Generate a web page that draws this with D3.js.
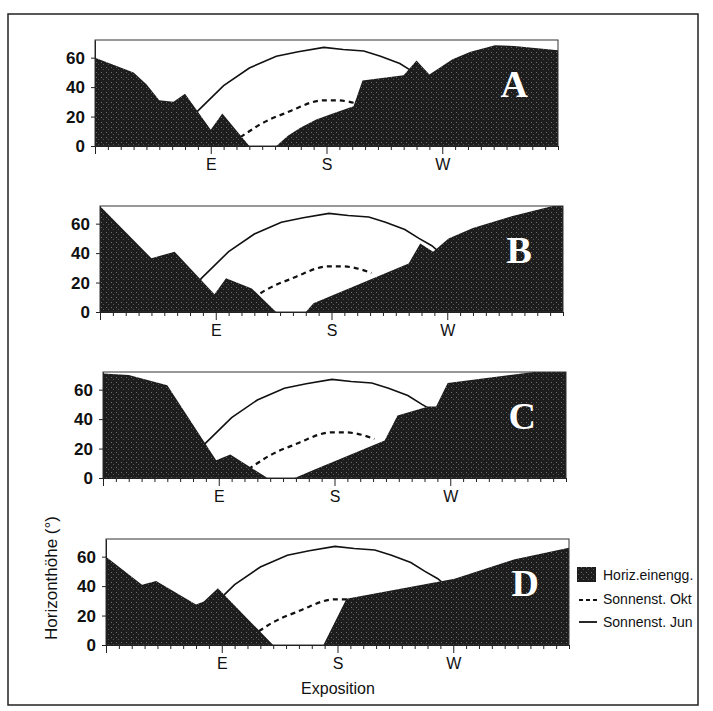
<!DOCTYPE html>
<html lang="de">
<head>
<meta charset="UTF-8">
<title>Horizonteinengung und Sonnenstand</title>
<style>
  body { margin: 0; background: #fff; }
  svg { display: block; font-family: "Liberation Sans", Arial, sans-serif; }
  .yaxis text { font-size: 17px; font-weight: bold; fill: #111; }
  .xaxis text { font-size: 16px; fill: #111; }
  .tick line, .domain { stroke: #222; }
  .legend text { font-size: 14px; fill: #111; }
</style>
</head>
<body>
<svg width="713" height="711"></svg>
<script src="https://d3js.org/d3.v7.min.js"></script>
<script>
// panel names
const panelNames = ["A", "B", "C", "D"];

// compass labels on the x axis (azimuth in degrees from north)
const dirTicks = [90, 180, 270];
const dirNames = ["E", "S", "W"];
const yTicks = [0, 20, 40, 60];

// horizon elevation (deg) per azimuth
const horizonAzA  = [0, 30, 40, 50, 61, 70, 90, 99, 120, 141, 150, 160, 172, 186, 201, 208, 240, 250, 260, 278, 292, 311, 326, 360];
const horizonValA = [60, 50, 42, 31, 30, 35.5, 11, 22, 0, 0, 7, 12.5, 18, 22.5, 27, 44.5, 48, 58, 48.5, 59, 64, 68.5, 68, 65];

const horizonAzB  = [0, 40, 58, 89, 98, 118, 137, 160, 166, 240, 249, 259, 271, 290, 320, 352, 360];
const horizonValB = [72, 36.5, 41, 12, 23, 16, 0, 0, 6, 33, 46.5, 41, 50, 57, 65, 72, 72];

const horizonAzC  = [0, 20, 50, 88, 99, 128, 149, 165, 219, 229, 243, 253, 259, 268, 335, 360];
const horizonValC = [71, 70, 63, 12, 16, 0, 0, 6, 25.5, 42.5, 46, 48.5, 48.5, 64.5, 72, 72];

const horizonAzD  = [0, 28, 39, 70, 76, 87, 130, 169, 187, 271, 317, 360];
const horizonValD = [60, 41, 43.5, 27.5, 29.5, 38.5, 0, 0, 31.5, 45, 58, 66];

// sun path June (solid) and October (dashed)
const junAz  = [62, 79, 100, 120, 141, 158, 178, 193, 209, 222, 237, 248, 258, 270, 285];
const junVal = [5, 23, 41, 53, 61, 64, 67, 65.5, 64.5, 61, 56, 50, 45, 36, 20];

const oktAz  = [113, 120, 128, 137, 147, 158, 168, 178, 188, 198, 211];
const oktVal = [6, 10, 14.5, 18.5, 22, 26, 29.5, 31, 31, 30, 26.5];

const horizonAz  = [horizonAzA, horizonAzB, horizonAzC, horizonAzD];
const horizonVal = [horizonValA, horizonValB, horizonValC, horizonValD];

// layout (scan is a bit skewed, so each panel shifts slightly)
const panelLeft = [95, 100, 103, 106];
const panelBase = [146, 312, 478, 645];
const plotW = 463, plotH = 106;

const svg = d3.select("svg");

const defs = svg.append("defs");
const pat = defs.append("pattern")
  .attr("id", "speckle")
  .attr("width", 5).attr("height", 5)
  .attr("patternUnits", "userSpaceOnUse");
pat.append("rect").attr("width", 5).attr("height", 5).attr("fill", "#1d1d1d");
pat.append("rect").attr("x", 1).attr("y", 2).attr("width", 1).attr("height", 1).attr("fill", "#6e6e6e");
pat.append("rect").attr("x", 3).attr("y", 4).attr("width", 1).attr("height", 1).attr("fill", "#555");

// outer frame of the scanned page
svg.append("rect")
  .attr("x", 8).attr("y", 14)
  .attr("width", 690).attr("height", 691)
  .attr("fill", "none")
  .attr("stroke", "#222")
  .attr("stroke-width", 1.5);

const zip = (a, b) => a.map((v, i) => [v, b[i]]);
const junData = zip(junAz, junVal);
const oktData = zip(oktAz, oktVal);

panelNames.forEach((name, i) => {
  const left = panelLeft[i], base = panelBase[i];
  const x = d3.scaleLinear().domain([0, 360]).range([left, left + plotW]);
  const y = d3.scaleLinear().domain([0, 72]).range([base, base - plotH]);

  const g = svg.append("g");

  defs.append("clipPath").attr("id", "clip" + i)
    .append("rect")
    .attr("x", left).attr("y", base - plotH)
    .attr("width", plotW).attr("height", plotH);

  const plot = g.append("g").attr("clip-path", `url(#clip${i})`);

  const line = d3.line().x(d => x(d[0])).y(d => y(d[1]));

  plot.append("path")
    .datum(junData)
    .attr("d", line)
    .attr("fill", "none")
    .attr("stroke", "#111")
    .attr("stroke-width", 1.6);

  plot.append("path")
    .datum(oktData)
    .attr("d", line.curve(d3.curveMonotoneX))
    .attr("fill", "none")
    .attr("stroke", "#111")
    .attr("stroke-width", 2.2)
    .attr("stroke-dasharray", "5,4");

  const area = d3.area()
    .x(d => x(d[0]))
    .y0(y(0))
    .y1(d => y(d[1]));

  plot.append("path")
    .datum(zip(horizonAz[i], horizonVal[i]))
    .attr("d", area)
    .attr("fill", "url(#speckle)");

  // panel letter
  g.append("text")
    .attr("x", x(326))
    .attr("y", y(33))
    .attr("text-anchor", "middle")
    .attr("font-family", "'Liberation Serif', 'Times New Roman', serif")
    .attr("font-weight", "bold")
    .attr("font-size", 38)
    .attr("fill", "#fff")
    .text(name);

  // plot frame
  g.append("rect")
    .attr("x", left).attr("y", base - plotH)
    .attr("width", plotW).attr("height", plotH)
    .attr("fill", "none")
    .attr("stroke", "#333")
    .attr("stroke-width", 1);

  // x axis
  const xAxis = g.append("g")
    .attr("class", "xaxis")
    .attr("transform", `translate(0,${base})`)
    .call(d3.axisBottom(x)
      .tickValues(d3.range(0, 361, 10))
      .tickSize(4)
      .tickSizeOuter(0)
      .tickFormat(d => {
        const k = dirTicks.indexOf(d);
        return k >= 0 ? dirNames[k] : "";
      }));
  xAxis.selectAll(".tick line")
    .attr("y2", d => dirTicks.includes(d) || d === 0 ? 8 : 4);
  xAxis.selectAll(".tick text").attr("y", 13);

  // y axis
  g.append("g")
    .attr("class", "yaxis")
    .attr("transform", `translate(${left},0)`)
    .call(d3.axisLeft(y)
      .tickValues(yTicks)
      .tickSize(4)
      .tickSizeOuter(0)
      .tickPadding(6));
});

// axis titles
svg.append("text")
  .attr("transform", "translate(57,578) rotate(-90)")
  .attr("text-anchor", "middle")
  .attr("font-size", 17)
  .attr("fill", "#111")
  .text("Horizonthöhe (°)");

svg.append("text")
  .attr("x", 338)
  .attr("y", 694)
  .attr("text-anchor", "middle")
  .attr("font-size", 16)
  .attr("fill", "#111")
  .text("Exposition");

// legend
const legend = svg.append("g").attr("class", "legend");
legend.append("rect")
  .attr("x", 577).attr("y", 567)
  .attr("width", 19).attr("height", 15)
  .attr("fill", "url(#speckle)");
legend.append("line")
  .attr("x1", 579).attr("x2", 597).attr("y1", 600).attr("y2", 600)
  .attr("stroke", "#111").attr("stroke-width", 2.2).attr("stroke-dasharray", "4,3");
legend.append("line")
  .attr("x1", 579).attr("x2", 597).attr("y1", 622).attr("y2", 622)
  .attr("stroke", "#111").attr("stroke-width", 1.8);
const legendNames = ["Horiz.einengg.", "Sonnenst. Okt", "Sonnenst. Jun"];
legend.selectAll("text.lab")
  .data(legendNames)
  .join("text")
  .attr("class", "lab")
  .attr("x", 603)
  .attr("y", (d, k) => 580 + k * 23.5)
  .text(d => d);
</script>
</body>
</html>
